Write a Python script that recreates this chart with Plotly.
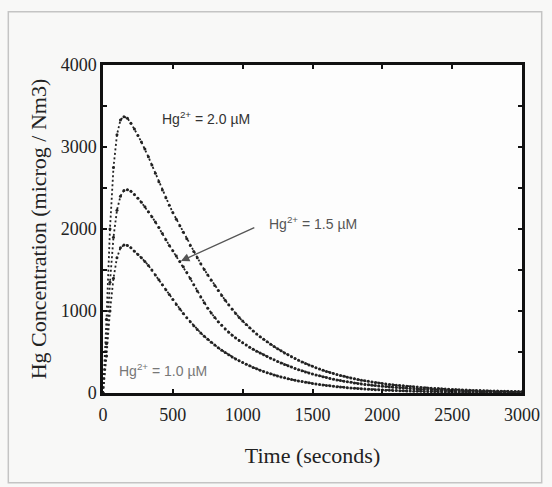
import plotly.graph_objects as go

# Time grid (seconds) shared by all three series
time_s = list(range(0, 3001, 25))

# Hg concentration (microg / Nm3)
hg_2_0 = [
    0, 900, 2000, 2750, 3150, 3330, 3370, 3350,
    3290, 3220, 3140, 3060, 2975, 2880, 2780, 2680,
    2575, 2475, 2380, 2290, 2200, 2120, 2040, 1960,
    1880, 1800, 1725, 1650, 1575, 1505, 1440, 1375,
    1310, 1250, 1190, 1130, 1075, 1020, 970, 922,
    877, 835, 795, 757, 721, 687, 655, 624,
    595, 567, 540, 514, 489, 465, 442, 420,
    399, 379, 360, 342, 325, 308, 292, 277,
    263, 250, 237, 225, 214, 203, 193, 183,
    174, 165, 157, 149, 142, 135, 128, 122,
    116, 110, 105, 100, 95, 91, 87, 83,
    79, 75, 72, 68, 65, 62, 59, 56,
    54, 51, 49, 46, 44, 42, 40, 38,
    36, 34, 32, 31, 29, 28, 26, 25,
    24, 23, 22, 21, 20, 19, 18, 17,
    16,
]

hg_1_5 = [
    0, 600, 1350, 1900, 2230, 2400, 2470, 2480,
    2460, 2420, 2375, 2325, 2270, 2210, 2150, 2085,
    2018, 1945, 1870, 1800, 1735, 1670, 1605, 1540,
    1470, 1395, 1320, 1245, 1170, 1100, 1035, 975,
    920, 870, 825, 782, 742, 705, 670, 640,
    612, 585, 559, 534, 510, 487, 465, 444,
    424, 404, 385, 367, 349, 332, 316, 300,
    285, 271, 257, 244, 232, 220, 209, 198,
    188, 178, 169, 160, 152, 144, 137, 130,
    123, 117, 111, 105, 100, 95, 90, 86,
    82, 78, 74, 70, 67, 64, 61, 58,
    55, 52, 50, 47, 45, 43, 41, 39,
    37, 35, 33, 32, 30, 29, 27, 26,
    25, 24, 23, 22, 21, 20, 19, 18,
    17, 16, 16, 15, 15, 14, 13, 13,
    12,
]

hg_1_0 = [
    0, 450, 1000, 1400, 1650, 1770, 1805, 1800,
    1770, 1730, 1690, 1650, 1605, 1555, 1500, 1440,
    1380, 1320, 1260, 1200, 1140, 1080, 1025, 970,
    918, 868, 820, 775, 732, 692, 654, 618,
    584, 552, 522, 493, 466, 440, 416, 393,
    371, 350, 331, 312, 295, 278, 263, 248,
    234, 221, 208, 196, 185, 175, 165, 156,
    147, 139, 131, 124, 117, 110, 104, 98,
    92, 87, 82, 77, 73, 69, 65, 61,
    58, 55, 52, 49, 46, 44, 41, 39,
    37, 35, 33, 31, 29, 28, 26, 25,
    23, 22, 21, 20, 19, 18, 17, 16,
    15, 14, 13, 13, 12, 11, 11, 10,
    10, 9, 9, 8, 8, 7, 7, 7,
    6, 6, 6, 5, 5, 5, 5, 4,
    4,
]

x_ticks = [0, 500, 1000, 1500, 2000, 2500, 3000]
y_ticks = [0, 1000, 2000, 3000, 4000]

fig = go.Figure()
for ys in (hg_2_0, hg_1_5, hg_1_0):
    fig.add_trace(go.Scatter(
        x=time_s, y=ys, mode="lines+markers",
        line=dict(color="#222222", width=1.8, dash="2px,2.5px"),
        marker=dict(color="#222222", size=3),
        showlegend=False, hoverinfo="skip",
    ))

serif = "Liberation Serif"
sans = "Liberation Sans"

fig.update_layout(
    width=552, height=487,
    margin=dict(l=103, r=24, t=65, b=94),
    paper_bgcolor="#f8f8f7",
    plot_bgcolor="#fdfdfd",
    xaxis=dict(
        range=[0, 3000], tickvals=x_ticks, ticks="inside", ticklen=4,
        tickcolor="#111", tickwidth=1.5, ticklabelstandoff=4,
        showline=True, linecolor="#111", linewidth=2.5, mirror="ticks",
        showgrid=False, zeroline=False,
        tickfont=dict(family=serif, size=18, color="#222"),
        title=dict(text="Time (seconds)", font=dict(family=serif, size=22, color="#222"), standoff=24),
    ),
    yaxis=dict(
        range=[0, 4000], tickvals=y_ticks, ticks="inside", ticklen=4,
        tickcolor="#111", tickwidth=1.5,
        minor=dict(dtick=500, ticks="inside", ticklen=4, tickcolor="#111", tickwidth=1.5),
        showline=True, linecolor="#111", linewidth=2.5, mirror="ticks",
        showgrid=False, zeroline=False,
        tickfont=dict(family=serif, size=18, color="#222"),
        title=dict(text="Hg Concentration (microg / Nm3)", font=dict(family=serif, size=22, color="#222"), standoff=8),
    ),
    shapes=[dict(
        type="rect", xref="paper", yref="paper",
        x0=-0.226, x1=1.047, y0=-0.274, y1=1.162,
        line=dict(color="#c4c4c4", width=1.5), layer="below",
    )],
    annotations=[
        dict(x=734, y=3355, xref="x", yref="y", showarrow=False,
             text="Hg<sup>2+</sup> = 2.0 µM", font=dict(family=sans, size=14, color="#333")),
        dict(x=1504, y=2074, xref="x", yref="y", showarrow=False,
             text="Hg<sup>2+</sup> = 1.5 µM", font=dict(family=sans, size=14, color="#555")),
        dict(x=431, y=280, xref="x", yref="y", showarrow=False,
             text="Hg<sup>2+</sup> = 1.0 µM", font=dict(family=sans, size=14, color="#777")),
        dict(x=558, y=1610, xref="x", yref="y", ax=1094, ay=2025, axref="x", ayref="y",
             showarrow=True, arrowhead=2, arrowsize=1.3, arrowwidth=1.3, arrowcolor="#555", text=""),
    ],
)

fig.write_html("out.html")
